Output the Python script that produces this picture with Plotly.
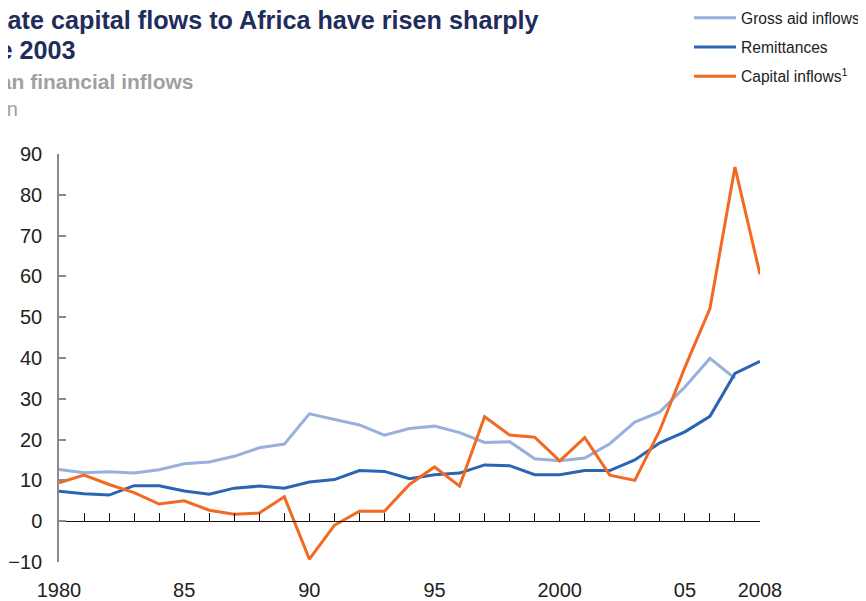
import plotly.graph_objects as go

years = list(range(1980, 2009))

gross_aid = [12.7, 11.9, 12.1, 11.8, 12.6, 14.1, 14.5, 15.9, 18.0, 18.9,
             26.3, 25.0, 23.6, 21.1, 22.7, 23.3, 21.7, 19.3, 19.5, 15.3,
             14.8, 15.5, 19.0, 24.3, 26.8, 32.9, 39.9, 35.0, None]
remittances = [7.35, 6.7, 6.4, 8.7, 8.7, 7.4, 6.6, 8.1, 8.6, 8.1,
               9.6, 10.2, 12.4, 12.2, 10.4, 11.4, 11.8, 13.8, 13.6, 11.4,
               11.4, 12.4, 12.4, 15.0, 19.2, 21.9, 25.7, 36.2, 39.2]
capital_inflows = [9.4, 11.3, 9.0, 7.0, 4.2, 5.0, 2.7, 1.7, 2.0, 6.0,
                   -9.3, -1.0, 2.45, 2.45, 9.0, 13.3, 8.6, 25.6, 21.1, 20.6,
                   14.8, 20.5, 11.3, 10.0, 22.3, 37.7, 52.1, 86.8, 60.5]

x_tickvals = [1980, 1985, 1990, 1995, 2000, 2005, 2008]
x_ticktext = ["1980", "85", "90", "95", "2000", "05", "2008"]
y_tickvals = [-10, 0, 10, 20, 30, 40, 50, 60, 70, 80, 90]

# the page body has an 8px margin; layout coordinates are screen - OFF
OFF = 8
W, H = 866 - OFF, 601 - OFF
PL, PR, PT, PB = 59 - OFF, 760 - OFF, 154 - OFF, 562 - OFF
ML, MR, MT, MB = PL, W - PR, PT, H - PB
PW, PH = PR - PL, PB - PT

def px(xs):
    return (xs - OFF - PL) / PW

def py(ys):
    return (PB - (ys - OFF)) / PH

FONT = "Liberation Sans, Arial, sans-serif"

fig = go.Figure()
series = [
    ("Gross aid inflows", gross_aid, "#99AFDC"),
    ("Remittances", remittances, "#2B64B3"),
    ("Capital inflows<sup>1</sup>", capital_inflows, "#F26A22"),
]
for i, (name, vals, col) in enumerate(series):
    fig.add_trace(go.Scatter(x=years, y=vals, name=name, mode="lines",
                             line=dict(color=col, width=3),
                             legendgroup=f"g{i}"))

# zero-line axis with yearly ticks
fig.add_trace(go.Scatter(x=years, y=[None] * len(years), xaxis="x2",
                         showlegend=False, hoverinfo="skip"))

fig.update_layout(
    template="none",
    width=W, height=H,
    margin=dict(l=ML, r=MR, t=MT, b=MB, autoexpand=False),
    paper_bgcolor="white", plot_bgcolor="white",
    font=dict(family=FONT, color="#222222"),
    showlegend=True,
    legend=dict(xref="paper", yref="paper", x=px(689), y=py(1),
                xanchor="left", yanchor="top",
                font=dict(size=15.6, color="#222222"),
                itemwidth=42, tracegroupgap=6, bgcolor="rgba(0,0,0,0)"),
    xaxis=dict(range=[1980, 2008], showgrid=False, zeroline=False,
               showline=False, ticks="", tickvals=x_tickvals,
               ticktext=x_ticktext, tickfont=dict(size=20, color="#222222"),
               ticklabelstandoff=14, automargin=False),
    xaxis2=dict(range=[1980, 2008], overlaying="x", anchor="free",
                position=0.1, showgrid=False, zeroline=False,
                showline=True, linecolor="#111111", linewidth=1.3,
                ticks="inside", ticklen=8, tickcolor="#111111",
                tickwidth=1, tick0=1980, dtick=1, showticklabels=False,
                automargin=False),
    yaxis=dict(range=[-10, 90], showgrid=False, zeroline=False,
               showline=True, linecolor="#8a8a8a", linewidth=1.5,
               ticks="inside", ticklen=7, tickcolor="#8a8a8a", tickwidth=1.5,
               tickvals=y_tickvals, tickfont=dict(size=20, color="#222222"),
               ticklabelstandoff=11, automargin=False),
)

title_lines = [
    ("Private capital flows to Africa have risen sharply", 541, 20, 25.2, "#1F2D5C", True),
    ("since 2003", 77, 50, 25.2, "#1F2D5C", True),
    ("African financial inflows", 196, 82, 21, "#A0A0A0", True),
    ("$ billion", 20, 109, 20, "#A0A0A0", False),
]
for txt, xr, yc, size, col, bold in title_lines:
    fig.add_annotation(text=f"<b>{txt}</b>" if bold else txt,
                       xref="paper", yref="paper", x=px(xr), y=py(yc),
                       xanchor="right", yanchor="middle", showarrow=False,
                       font=dict(size=size, color=col, family=FONT))

fig.write_html("out.html")
